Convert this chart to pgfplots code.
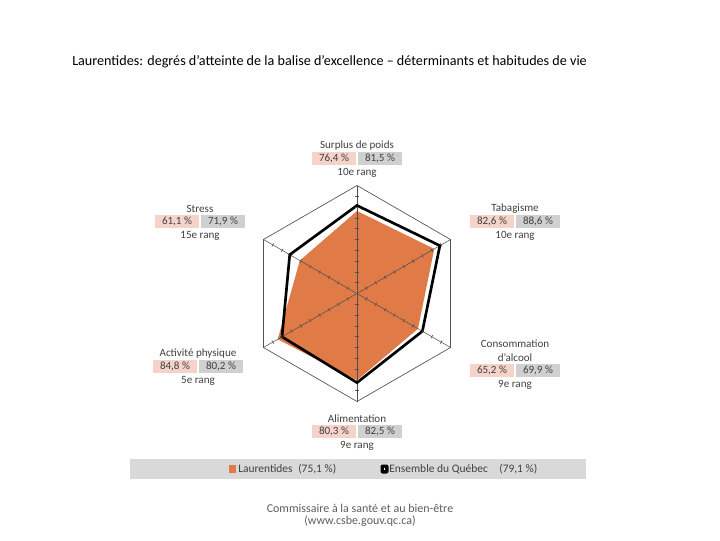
\documentclass[border=0pt]{standalone}
\usepackage{fontspec}
\setmainfont{Carlito}
\usepackage{pgfplots}
\pgfplotsset{compat=1.18}
\usepgfplotslibrary{polar}

\definecolor{laur}{HTML}{E07B47}
\definecolor{pinkbox}{HTML}{F5D3C8}
\definecolor{greybox}{HTML}{D0D0D0}
\definecolor{band}{HTML}{D9D9D9}
\definecolor{lbl}{HTML}{404040}
\definecolor{gridc}{HTML}{505050}

% #1 x, #2 y of title (px from top), #3 title, #4 region value, #5 Quebec value, #6 rank
\newcommand\lab[6]{%
  \node[lbltxt] at (#1, 540-#2) {#3};
  \node[pbox, fill=pinkbox] at (#1-23, 540-#2-12.5) {#4};
  \node[pbox, fill=greybox] at (#1+23, 540-#2-12.5) {#5};
  \node[lbltxt] at (#1, 540-#2-27) {#6};
}

\begin{document}
\begin{tikzpicture}[x=0.75pt, y=0.75pt,
  lbltxt/.style={text=lbl, font=\fontsize{8.3}{9}\selectfont, inner sep=0pt},
  pbox/.style={text=lbl, font=\fontsize{8.3}{9}\selectfont, inner sep=0pt,
    minimum width=33pt, minimum height=9.75pt}]
\path[use as bounding box] (0,0) rectangle (720,540);

% title
\node[anchor=base west, inner sep=0pt, font=\fontsize{10.6}{12}\selectfont] at (72, 540-66)
  {Laurentides: degrés d'atteinte de la balise d'excellence -- déterminants et habitudes de vie};

\begin{polaraxis}[
  at={(267.75pt,184.875pt)}, anchor=origin,
  scale only axis, width=162pt, height=162pt,
  ymin=0, ymax=100, hide axis, clip=false]
% Laurentides
\addplot[fill=laur, draw=none] coordinates {
  (90,76.4) (30,82.6) (330,65.2) (270,80.3) (210,84.8) (150,61.1)} -- cycle;
% grid
\addplot[gridc, line width=0.5pt] coordinates {
  (90,100) (30,100) (330,100) (270,100) (210,100) (150,100) (90,100)};
\addplot[gridc, line width=0.4pt] coordinates {(90,100) (270,100)};
\addplot[gridc, line width=0.4pt] coordinates {(30,100) (210,100)};
\addplot[gridc, line width=0.4pt] coordinates {(150,100) (330,100)};
\addplot[only marks, mark=|, mark size=1.4pt, mark options={gridc, rotate=90, line width=0.45pt}] coordinates {
  (90,10) (90,20) (90,30) (90,40) (90,50) (90,60) (90,70) (90,80) (90,90)
  (270,10) (270,20) (270,30) (270,40) (270,50) (270,60) (270,70) (270,80) (270,90)};
\addplot[only marks, mark=|, mark size=1.4pt, mark options={gridc, rotate=30, line width=0.45pt}] coordinates {
  (30,10) (30,20) (30,30) (30,40) (30,50) (30,60) (30,70) (30,80) (30,90)
  (210,10) (210,20) (210,30) (210,40) (210,50) (210,60) (210,70) (210,80) (210,90)};
\addplot[only marks, mark=|, mark size=1.4pt, mark options={gridc, rotate=150, line width=0.45pt}] coordinates {
  (150,10) (150,20) (150,30) (150,40) (150,50) (150,60) (150,70) (150,80) (150,90)
  (330,10) (330,20) (330,30) (330,40) (330,50) (330,60) (330,70) (330,80) (330,90)};
% Ensemble du Quebec
\addplot[black, line width=2pt, line join=miter] coordinates {
  (90,81.5) (30,88.6) (330,69.9) (270,82.5) (210,80.2) (150,71.9)} -- cycle;
\end{polaraxis}

% axis labels
\lab{357}{146}{Surplus de poids}{76,4 \%}{81,5 \%}{10e rang}
\lab{515}{209}{Tabagisme}{82,6 \%}{88,6 \%}{10e rang}
\lab{200}{209}{Stress}{61,1 \%}{71,9 \%}{15e rang}
\lab{198}{354}{Activité physique}{84,8 \%}{80,2 \%}{5e rang}
\node[lbltxt] at (515, 540-344) {Consommation};
\lab{515}{358}{d'alcool}{65,2 \%}{69,9 \%}{9e rang}
\lab{357}{419}{Alimentation}{80,3 \%}{82,5 \%}{9e rang}

% legend band
\fill[band] (130,540-459) rectangle (586,540-479);
\fill[laur] (229,540-465) rectangle (236,540-473);
\node[lbltxt, anchor=west, font=\fontsize{8.6}{9}\selectfont] at (238,540-469) {Laurentides};
\node[lbltxt, anchor=west, font=\fontsize{8.6}{9}\selectfont] at (298,540-469) {(75,1 \%)};
\fill[black, rounded corners=1.5pt] (380.5,540-464.5) rectangle (388.5,540-473.5);
\fill[white] (383.8,540-468.2) rectangle (385.2,540-469.8);
\node[lbltxt, anchor=west, font=\fontsize{8.6}{9}\selectfont] at (389,540-469) {Ensemble du Québec};
\node[lbltxt, anchor=west, font=\fontsize{8.6}{9}\selectfont] at (499,540-469) {(79,1 \%)};

% footer
\node[text=lbl!85, font=\fontsize{9}{10}\selectfont, inner sep=0pt] at (360,540-508) {Commissaire à la santé et au bien-être};
\node[text=lbl!85, font=\fontsize{9}{10}\selectfont, inner sep=0pt] at (360,540-521) {(www.csbe.gouv.qc.ca)};
\end{tikzpicture}
\end{document}
